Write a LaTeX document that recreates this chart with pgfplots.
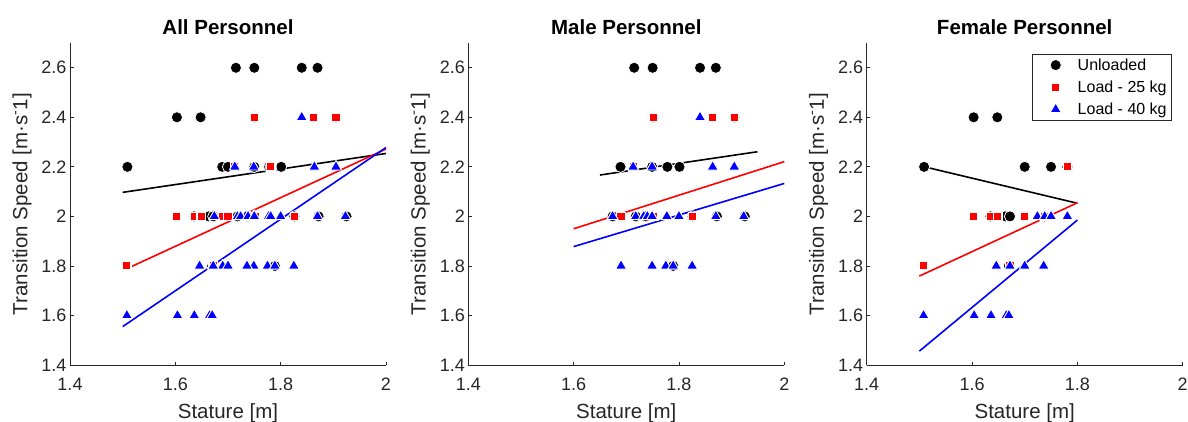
\documentclass[border=0pt]{standalone}
\usepackage{fontspec}
\setmainfont{Liberation Sans}
\usepackage{pgfplots}
\pgfplotsset{compat=1.18}
\usepackage{pgfplotstable}
\definecolor{axgray}{rgb}{0.15,0.15,0.15}

% Male personnel
\pgfplotstableread{
x y
1.715 2.6
1.750 2.6
1.840 2.6
1.870 2.6
1.751 2.4
1.905 2.4
1.689 2.2
1.749 2.2
1.778 2.2
1.801 2.2
1.674 2.0
1.718 2.0
1.737 2.0
1.826 2.0
1.872 2.0
1.925 2.0
1.789 1.8
}\maleU
\pgfplotstableread{
x y
1.751 2.4
1.863 2.4
1.905 2.4
1.713 2.2
1.690 2.0
1.752 2.0
1.826 2.0
}\maleA
\pgfplotstableread{
x y
1.840 2.4
1.713 2.2
1.749 2.2
1.864 2.2
1.905 2.2
1.674 2.0
1.718 2.0
1.733 2.0
1.740 2.0
1.749 2.0
1.777 2.0
1.800 2.0
1.870 2.0
1.923 2.0
1.690 1.8
1.749 1.8
1.775 1.8
1.789 1.8
1.825 1.8
}\maleB
% Female personnel
\pgfplotstableread{
x y
1.603 2.4
1.648 2.4
1.509 2.2
1.700 2.2
1.750 2.2
1.781 2.2
1.635 2.0
1.663 2.0
1.672 2.0
1.738 2.0
1.670 1.8
}\femU
\pgfplotstableread{
x y
1.781 2.2
1.603 2.0
1.636 2.0
1.649 2.0
1.700 2.0
1.738 2.0
1.508 1.8
1.672 1.8
}\femA
\pgfplotstableread{
x y
1.724 2.0
1.738 2.0
1.750 2.0
1.781 2.0
1.646 1.8
1.672 1.8
1.700 1.8
1.736 1.8
1.508 1.6
1.604 1.6
1.636 1.6
1.665 1.6
1.670 1.6
}\femB

\pgfplotsset{
  myaxis/.style={
    scale only axis, width=316pt, height=322pt,
    xmin=1.4, xmax=2, ymin=1.4, ymax=2.7,
    xtick={1.4,1.6,1.8,2}, ytick={1.4,1.6,1.8,2,2.2,2.4,2.6},
    axis lines=left,
    axis line style={-, draw=axgray, line width=0.8pt},
    tick style={draw=axgray, line width=0.8pt},
    tick align=inside, major tick length=3.5pt,
    /pgf/number format/assume math mode=true,
    tick label style={font=\fontsize{18}{20}\selectfont, text=axgray},
    xticklabel style={anchor=base, yshift=-25.7pt},
    every axis x label/.style={at={(axis description cs:0.5,-0.1646)}, anchor=base,
      font=\fontsize{20.5}{24}\selectfont, text=axgray},
    every axis y label/.style={at={(axis description cs:-0.152,0.5)}, rotate=90, anchor=center,
      font=\fontsize{20.5}{24}\selectfont, text=axgray},
    every axis title/.style={at={(axis description cs:0.5,1.027)}, anchor=base,
      font=\bfseries\fontsize{20.5}{24}\selectfont, text=black},
    xlabel={Stature [m]},
    ylabel={Transition Speed [m·s\textsuperscript{-}1]},
    clip=false,
  },
  circ/.style={only marks, mark=*, mark size=5.6pt,
    mark options={fill=black, draw=white, line width=0.8pt}},
  sq/.style={only marks, mark=square*, mark size=4.2pt,
    mark options={fill=red, draw=white, line width=1.3pt}},
  tri/.style={only marks, mark=triangle*, mark size=6.4pt,
    mark options={fill=blue, draw=white, line width=0.9pt, line join=round}},
  fitline/.style={line width=1.6pt, forget plot},
}

\begin{document}
\begin{tikzpicture}
\useasboundingbox (0,0) rectangle (1188pt,421pt);

% ---------------- All Personnel
\begin{axis}[myaxis, at={(70pt,56pt)}, anchor=south west, title={All Personnel}]
\addplot[fitline, black] coordinates {(1.5,2.097) (2.0,2.254)};
\addplot[fitline, red] coordinates {(1.5,1.781) (2.0,2.272)};
\addplot[fitline, blue] coordinates {(1.5,1.555) (2.0,2.278)};
\addplot[circ] table {\maleU};
\addplot[circ] table {\femU};
\addplot[sq] table {\maleA};
\addplot[sq] table {\femA};
\addplot[tri] table {\maleB};
\addplot[tri] table {\femB};
\end{axis}

% ---------------- Male Personnel
\begin{axis}[myaxis, at={(468.3pt,56pt)}, anchor=south west, title={Male Personnel}]
\addplot[fitline, black] coordinates {(1.65,2.167) (1.949,2.261)};
\addplot[fitline, red] coordinates {(1.6,1.950) (2.0,2.221)};
\addplot[fitline, blue] coordinates {(1.6,1.878) (2.0,2.133)};
\addplot[circ] table {\maleU};
\addplot[sq] table {\maleA};
\addplot[tri] table {\maleB};
\end{axis}

% ---------------- Female Personnel
\begin{axis}[myaxis, at={(866.7pt,56pt)}, anchor=south west, title={Female Personnel},
  legend style={at={(0.966,0.965)}, anchor=north east, draw=axgray, line width=0.6pt,
    fill=white, font=\fontsize{16}{19}\selectfont, text=black, row sep=5pt},
  legend cell align=left,
  legend image code/.code={\path[draw=none,fill=none] (0pt,0pt) (40pt,0pt); \draw[#1] plot coordinates {(20pt,0pt)};}]
\addplot[fitline, black] coordinates {(1.5,2.205) (1.8,2.053)};
\addplot[fitline, red] coordinates {(1.5,1.759) (1.8,2.055)};
\addplot[fitline, blue] coordinates {(1.5,1.456) (1.8,1.985)};
\addplot[circ] table {\femU};
\addplot[sq] table {\femA};
\addplot[tri] table {\femB};
\legend{Unloaded, Load - 25 kg, Load - 40 kg}
\end{axis}
\end{tikzpicture}
\end{document}
